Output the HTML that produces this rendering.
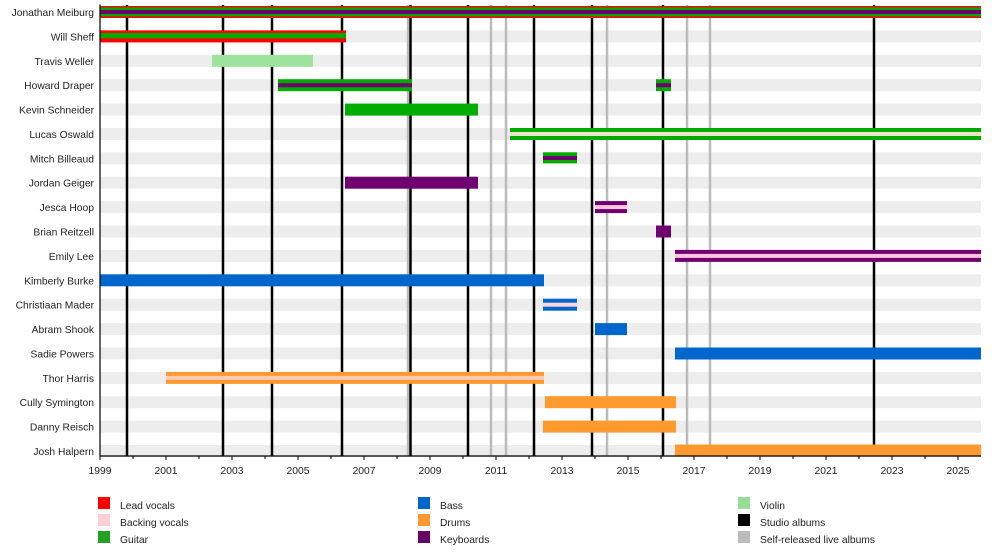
<!DOCTYPE html>
<html>
<head>
<meta charset="utf-8">
<style>
  html,body{margin:0;padding:0;background:#fff;}
  svg{display:block;}
  text{font-family:"Liberation Sans",Arial,sans-serif;font-size:10.3px;fill:#222;}
</style>
</head>
<body>
<svg width="1000" height="555" viewBox="0 0 1000 555" xmlns="http://www.w3.org/2000/svg">
  <!-- background row bars -->
  <g fill="#ededed">
    <rect x="100" y="6" width="881" height="12"/>
    <rect x="100" y="30.4" width="881" height="12"/>
    <rect x="100" y="54.8" width="881" height="12"/>
    <rect x="100" y="79.2" width="881" height="12"/>
    <rect x="100" y="103.6" width="881" height="12"/>
    <rect x="100" y="128" width="881" height="12"/>
    <rect x="100" y="152.3" width="881" height="12"/>
    <rect x="100" y="176.7" width="881" height="12"/>
    <rect x="100" y="201.1" width="881" height="12"/>
    <rect x="100" y="225.5" width="881" height="12"/>
    <rect x="100" y="249.9" width="881" height="12"/>
    <rect x="100" y="274.3" width="881" height="12"/>
    <rect x="100" y="298.7" width="881" height="12"/>
    <rect x="100" y="323.1" width="881" height="12"/>
    <rect x="100" y="347.5" width="881" height="12"/>
    <rect x="100" y="371.9" width="881" height="12"/>
    <rect x="100" y="396.2" width="881" height="12"/>
    <rect x="100" y="420.6" width="881" height="12"/>
    <rect x="100" y="445" width="881" height="12"/>
  </g>

  <!-- self-released live album lines (gray) -->
  <g stroke="#bbbbbb" stroke-width="2.5">
    <line x1="408" y1="5" x2="408" y2="456"/>
    <line x1="491" y1="5" x2="491" y2="456"/>
    <line x1="506" y1="5" x2="506" y2="456"/>
    <line x1="607" y1="5" x2="607" y2="456"/>
    <line x1="687" y1="5" x2="687" y2="456"/>
    <line x1="710" y1="5" x2="710" y2="456"/>
  </g>
  <!-- studio album lines (black) -->
  <g stroke="#000" stroke-width="2.5">
    <line x1="127" y1="5" x2="127" y2="456"/>
    <line x1="223" y1="5" x2="223" y2="456"/>
    <line x1="272" y1="5" x2="272" y2="456"/>
    <line x1="342" y1="5" x2="342" y2="456"/>
    <line x1="410.5" y1="5" x2="410.5" y2="456"/>
    <line x1="468" y1="5" x2="468" y2="456"/>
    <line x1="534" y1="5" x2="534" y2="456"/>
    <line x1="592" y1="5" x2="592" y2="456"/>
    <line x1="663" y1="5" x2="663" y2="456"/>
    <line x1="874" y1="5" x2="874" y2="456"/>
  </g>

  <!-- Bars -->
  <rect x="100" y="6" width="881" height="12" fill="#ff0000"/>
  <rect x="100" y="7.4" width="881" height="9" fill="#00aa00"/>
  <rect x="100" y="10" width="881" height="4" fill="#700070"/>
  <rect x="100" y="30.4" width="246" height="12" fill="#ff0000"/>
  <rect x="100" y="33" width="246" height="5.4" fill="#00aa00"/>
  <rect x="212" y="54.8" width="101" height="12" fill="#9de39d"/>
  <rect x="278" y="79.2" width="134" height="12" fill="#00aa00"/>
  <rect x="278" y="83.2" width="134" height="4" fill="#700070"/>
  <rect x="656" y="79.2" width="15" height="12" fill="#00aa00"/>
  <rect x="656" y="83.2" width="15" height="4" fill="#700070"/>
  <rect x="345" y="103.6" width="133" height="12" fill="#00ad00"/>
  <rect x="510" y="128" width="471" height="12" fill="#00aa00"/>
  <rect x="510" y="132" width="471" height="4" fill="#ece6c6"/>
  <rect x="543" y="152.3" width="34" height="11" fill="#00aa00"/>
  <rect x="543" y="156" width="34" height="4" fill="#700070"/>
  <rect x="345" y="176.7" width="133" height="12" fill="#700070"/>
  <rect x="595" y="201.1" width="32" height="12" fill="#700070"/>
  <rect x="595" y="205.1" width="32" height="4" fill="#ffc4e0"/>
  <rect x="656" y="225.5" width="15" height="12" fill="#700070"/>
  <rect x="675" y="249.9" width="306" height="12" fill="#700070"/>
  <rect x="675" y="253.9" width="306" height="4" fill="#ffc4e0"/>
  <rect x="100" y="274.3" width="444" height="12" fill="#0066cc"/>
  <rect x="543" y="298.7" width="34" height="12" fill="#0066cc"/>
  <rect x="543" y="302.7" width="34" height="4" fill="#ffd4dc"/>
  <rect x="595" y="323.1" width="32" height="12" fill="#0066cc"/>
  <rect x="675" y="347.5" width="306" height="12" fill="#0066cc"/>
  <rect x="166" y="371.9" width="378" height="12" fill="#ff9a2e"/>
  <rect x="166" y="375.9" width="378" height="4" fill="#ffc8b8"/>
  <rect x="545" y="396.2" width="131" height="12" fill="#ff9a2e"/>
  <rect x="543" y="420.6" width="133" height="12" fill="#ff9a2e"/>
  <rect x="675" y="444.5" width="306" height="11.5" fill="#ff9a2e"/>

  <!-- axes -->
  <line x1="100" y1="4.5" x2="100" y2="456.5" stroke="#000" stroke-width="1.2"/>
  <line x1="100" y1="456" x2="981" y2="456" stroke="#000" stroke-width="1.2"/>
  <g stroke="#000" stroke-width="1">
    <line x1="100" y1="456" x2="100" y2="460"/>
    <line x1="133" y1="456" x2="133" y2="459"/>
    <line x1="166" y1="456" x2="166" y2="460"/>
    <line x1="199" y1="456" x2="199" y2="459"/>
    <line x1="232" y1="456" x2="232" y2="460"/>
    <line x1="265" y1="456" x2="265" y2="459"/>
    <line x1="298" y1="456" x2="298" y2="460"/>
    <line x1="331" y1="456" x2="331" y2="459"/>
    <line x1="364" y1="456" x2="364" y2="460"/>
    <line x1="397" y1="456" x2="397" y2="459"/>
    <line x1="430" y1="456" x2="430" y2="460"/>
    <line x1="463" y1="456" x2="463" y2="459"/>
    <line x1="496" y1="456" x2="496" y2="460"/>
    <line x1="529" y1="456" x2="529" y2="459"/>
    <line x1="562" y1="456" x2="562" y2="460"/>
    <line x1="595" y1="456" x2="595" y2="459"/>
    <line x1="628" y1="456" x2="628" y2="460"/>
    <line x1="661" y1="456" x2="661" y2="459"/>
    <line x1="694" y1="456" x2="694" y2="460"/>
    <line x1="727" y1="456" x2="727" y2="459"/>
    <line x1="760" y1="456" x2="760" y2="460"/>
    <line x1="793" y1="456" x2="793" y2="459"/>
    <line x1="826" y1="456" x2="826" y2="460"/>
    <line x1="859" y1="456" x2="859" y2="459"/>
    <line x1="892" y1="456" x2="892" y2="460"/>
    <line x1="925" y1="456" x2="925" y2="459"/>
    <line x1="958" y1="456" x2="958" y2="460"/>
  </g>
  <g text-anchor="middle">
    <text x="100" y="474">1999</text>
    <text x="166" y="474">2001</text>
    <text x="232" y="474">2003</text>
    <text x="298" y="474">2005</text>
    <text x="364" y="474">2007</text>
    <text x="430" y="474">2009</text>
    <text x="496" y="474">2011</text>
    <text x="562" y="474">2013</text>
    <text x="628" y="474">2015</text>
    <text x="694" y="474">2017</text>
    <text x="760" y="474">2019</text>
    <text x="826" y="474">2021</text>
    <text x="892" y="474">2023</text>
    <text x="958" y="474">2025</text>
  </g>

  <!-- row labels -->
  <g text-anchor="end">
    <text x="94" y="16">Jonathan Meiburg</text>
    <text x="94" y="40.4">Will Sheff</text>
    <text x="94" y="64.8">Travis Weller</text>
    <text x="94" y="89.2">Howard Draper</text>
    <text x="94" y="113.6">Kevin Schneider</text>
    <text x="94" y="138">Lucas Oswald</text>
    <text x="94" y="162.3">Mitch Billeaud</text>
    <text x="94" y="186.7">Jordan Geiger</text>
    <text x="94" y="211.1">Jesca Hoop</text>
    <text x="94" y="235.5">Brian Reitzell</text>
    <text x="94" y="259.9">Emily Lee</text>
    <text x="94" y="284.3">Kimberly Burke</text>
    <text x="94" y="308.7">Christiaan Mader</text>
    <text x="94" y="333.1">Abram Shook</text>
    <text x="94" y="357.5">Sadie Powers</text>
    <text x="94" y="381.9">Thor Harris</text>
    <text x="94" y="406.2">Cully Symington</text>
    <text x="94" y="430.6">Danny Reisch</text>
    <text x="94" y="455">Josh Halpern</text>
  </g>

  <!-- legend -->
  <rect x="98" y="497" width="12" height="12" fill="#ff0000"/>
  <rect x="98" y="514" width="12" height="12" fill="#fcd0d4"/>
  <rect x="98" y="531" width="12" height="12" fill="#22a022"/>
  <text x="120" y="509">Lead vocals</text>
  <text x="120" y="526">Backing vocals</text>
  <text x="120" y="543">Guitar</text>

  <rect x="418" y="497" width="12" height="12" fill="#0066cc"/>
  <rect x="418" y="514" width="12" height="12" fill="#ff9933"/>
  <rect x="418" y="531" width="12" height="12" fill="#660066"/>
  <text x="440" y="509">Bass</text>
  <text x="440" y="526">Drums</text>
  <text x="440" y="543">Keyboards</text>

  <rect x="738" y="497" width="12" height="12" fill="#99dd99"/>
  <rect x="738" y="514" width="12" height="12" fill="#000000"/>
  <rect x="738" y="531" width="12" height="12" fill="#bbbbbb"/>
  <text x="760" y="509">Violin</text>
  <text x="760" y="526">Studio albums</text>
  <text x="760" y="543">Self-released live albums</text>
</svg>
</body>
</html>
